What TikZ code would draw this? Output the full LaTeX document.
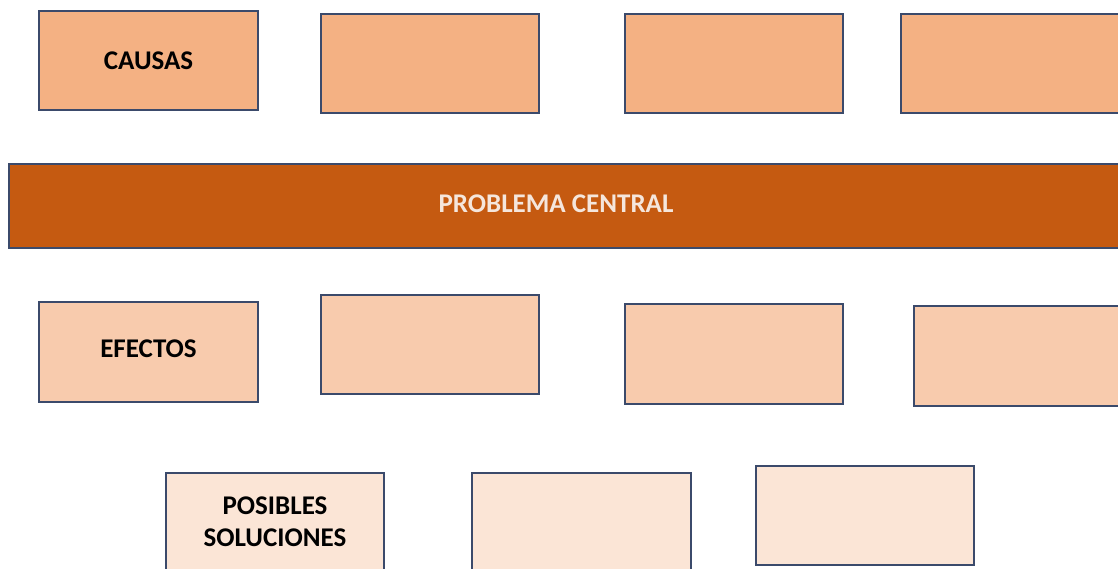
\documentclass[tikz,border=0pt]{standalone}
\usepackage{fontspec}
\setmainfont{Carlito}
\definecolor{cTop}{HTML}{F4B183}
\definecolor{cMid}{HTML}{F8CBAD}
\definecolor{cLow}{HTML}{FBE5D6}
\definecolor{cBar}{HTML}{C55A11}
\definecolor{cEdge}{HTML}{3B4A6B}
\definecolor{cBarText}{HTML}{F5E6DC}
\tikzset{
  box/.style={draw=cEdge, line width=1.3pt},
  lbl/.style={font=\fontsize{27}{32}\selectfont\bfseries, align=center, inner sep=0pt}
}
\begin{document}
\begin{tikzpicture}[x=1pt,y=-1pt]
\useasboundingbox (0,0) rectangle (1118,569);
\clip (0,0) rectangle (1118,569);
% top row (causes)
\path[box, fill=cTop] (39,11) rectangle (258,110);
\path[box, fill=cTop] (321,14) rectangle (539,113);
\path[box, fill=cTop] (625,14) rectangle (843,113);
\path[box, fill=cTop] (901,14) rectangle (1130,113);
\node[lbl] (causas) at (148.5,61) {CAUSAS};
% central bar
\path[box, fill=cBar] (9,164) rectangle (1130,248);
\node[lbl, text=cBarText] (central) at (556,204) {PROBLEMA CENTRAL};
% middle row (effects)
\path[box, fill=cMid] (39,302) rectangle (258,402);
\path[box, fill=cMid] (321,295) rectangle (539,394);
\path[box, fill=cMid] (625,304) rectangle (843,404);
\path[box, fill=cMid] (914,306) rectangle (1130,406);
\node[lbl] (efectos) at (148.5,349) {EFECTOS};
% bottom row (solutions)
\path[box, fill=cLow] (166,473) rectangle (384,580);
\path[box, fill=cLow] (472,473) rectangle (691,580);
\path[box, fill=cLow] (756,466) rectangle (974,565);
\node[lbl] (soluciones) at (275,522) {POSIBLES\\SOLUCIONES};
\end{tikzpicture}
\end{document}
